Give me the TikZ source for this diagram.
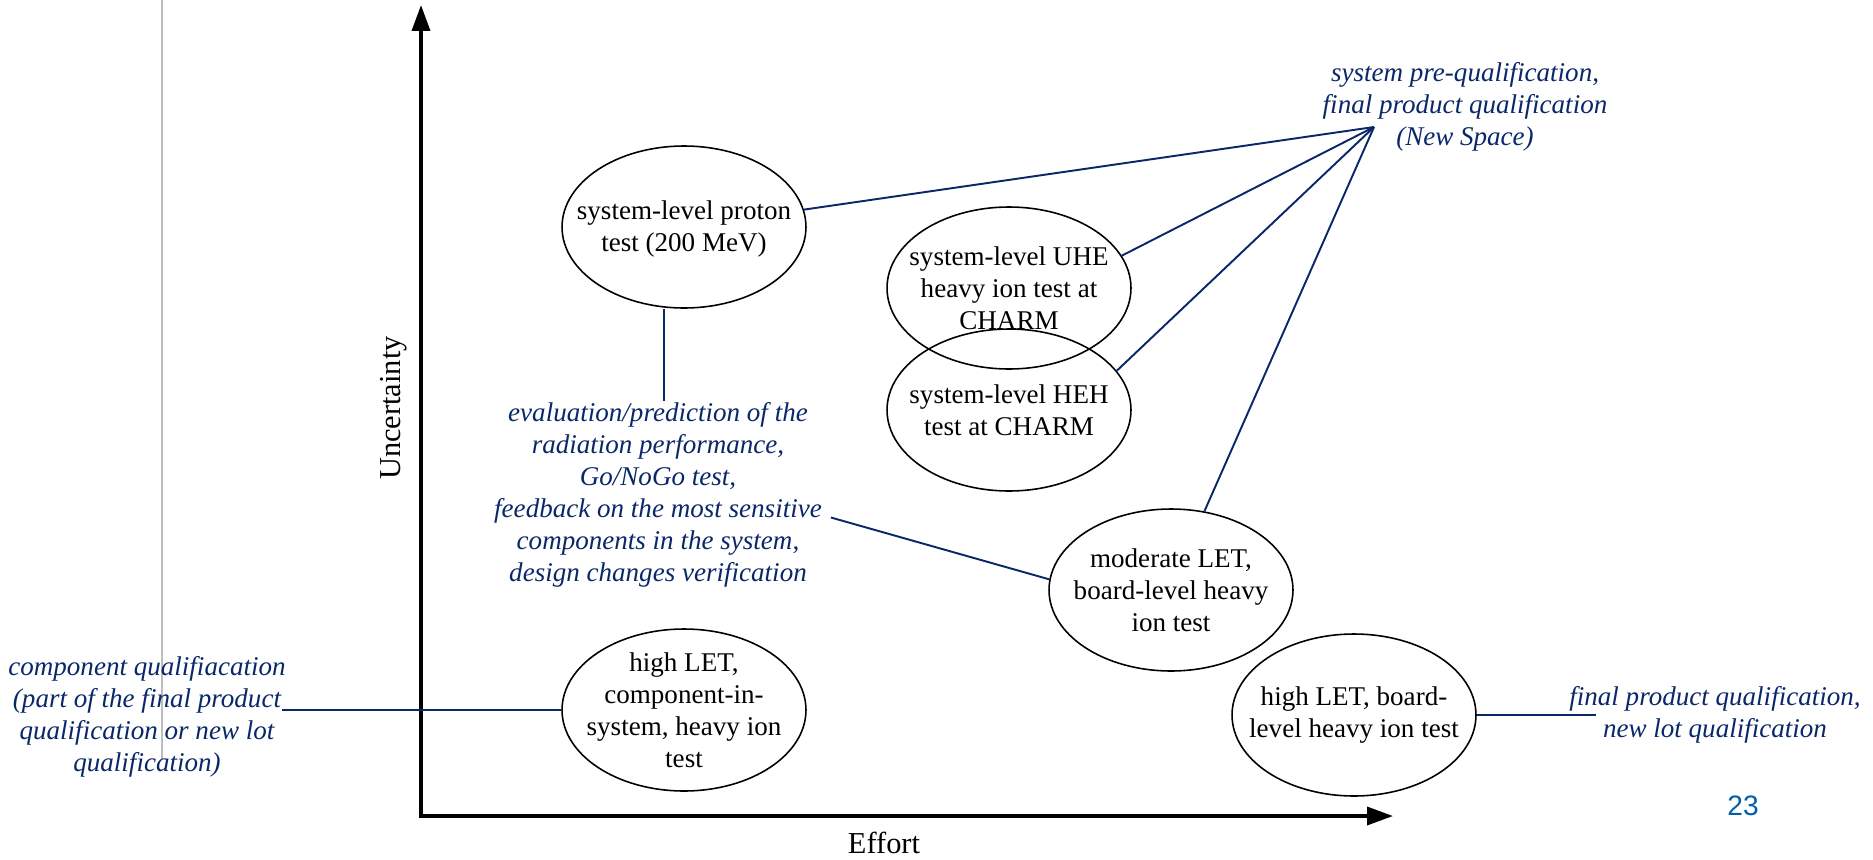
\documentclass[tikz,border=0pt]{standalone}
\usepackage{fontspec}
\setmainfont{Liberation Serif}
\newfontfamily\numfont{Liberation Sans}
\usetikzlibrary{shapes.geometric,arrows.meta}
\definecolor{navy}{RGB}{10,40,105}
\definecolor{pagenum}{RGB}{0,94,170}
\definecolor{guide}{RGB}{190,190,190}
\begin{document}
\begin{tikzpicture}[x=0.02cm,y=-0.02cm,
  oval/.style={ellipse,draw,line width=0.9pt,minimum width=4.88cm,minimum height=3.24cm,inner sep=0pt},
  ovaltext/.style={align=center,inner sep=0pt,font=\fontsize{15.4}{18.2}\selectfont},
  note/.style={text=navy,align=center,inner sep=1pt,font=\fontsize{15.4}{18.2}\selectfont\itshape},
  link/.style={draw=navy,line width=1.1pt},
  axis/.style={line width=2pt,{Triangle[length=0.52cm,width=0.36cm]}-{Triangle[length=0.52cm,width=0.36cm]}},
  axlabel/.style={font=\fontsize{17.3}{20}\selectfont}]
\useasboundingbox (0,0) rectangle (1873,859);

% guide line
\coordinate (gtop) at (162,0);
\coordinate (gbot) at (162,759);
\draw[guide,line width=1.2pt] (gtop) -- (gbot);

% axes
\coordinate (origin) at (421,816);
\coordinate (ytip) at (421,5);
\coordinate (xtip) at (1393,816);
\draw[axis] (ytip) -- (origin) -- (xtip);
\node[axlabel,rotate=90] (ylab) at (394,408) {Uncertainty};
\node[axlabel] (xlab) at (884,843) {Effort};

% ellipses
\node[oval] (proton) at (684,227) {};
\node[ovaltext] (protont) at ([yshift=-0.04cm]proton.center) {system-level proton\\test (200 MeV)};
\node[oval] (uhe) at (1009,288) {};
\node[ovaltext] (uhet) at (uhe) {system-level UHE\\heavy ion test at\\CHARM};
\node[oval] (heh) at (1009,410) {};
\node[ovaltext] (heht) at (heh) {system-level HEH\\test at CHARM};
\node[oval] (mod) at (1171,590) {};
\node[ovaltext] (modt) at (mod) {moderate LET,\\board-level heavy\\ion test};
\node[oval] (comp) at (684,710) {};
\node[ovaltext] (compt) at (comp) {high LET,\\component-in-\\system, heavy ion\\test};
\node[oval] (board) at (1354,715) {};
\node[ovaltext] (boardt) at (board) {high LET, board-\\level heavy ion test};

% notes
\node[note] (sysq) at (1465,107) {system pre-qualification,\\final product qualification\\(New Space)};
\node[note] (eval) at (658,495) {evaluation/prediction of the\\radiation performance,\\Go/NoGo test,\\feedback on the most sensitive\\components in the system,\\design changes verification};
\node[note] (llab) at (147,717) {component qualifiacation\\(part of the final product\\qualification or new lot\\qualification)};
\node[note] (rlab) at (1715,715) {final product qualification,\\new lot qualification};

% connectors
\coordinate (hub) at (1374,127);
\draw[link] (hub) -- (proton);
\draw[link] (hub) -- (uhe.16);
\draw[link] (hub) -- (heh.20);
\draw[link] (hub) -- (mod.67);

\coordinate (ev) at ([xshift=0.12cm]eval.north);
\draw[link] (ev) -- (ev |- proton.south);

\coordinate (fb) at ([xshift=0.14cm,yshift=-0.45cm]eval.east);
\draw[link] (fb) -- (mod.175);

\coordinate (lstart) at ([xshift=-0.12cm]llab.east);
\draw[link] (lstart |- comp.west) -- (comp.west);

\coordinate (rend) at ([xshift=0.58cm]rlab.west);
\draw[link] (board.east) -- (rend |- board.east);

% page number
\node[text=pagenum,font=\numfont\fontsize{16}{19}\selectfont] (pnum) at (1743,806) {23};
\end{tikzpicture}
\end{document}
